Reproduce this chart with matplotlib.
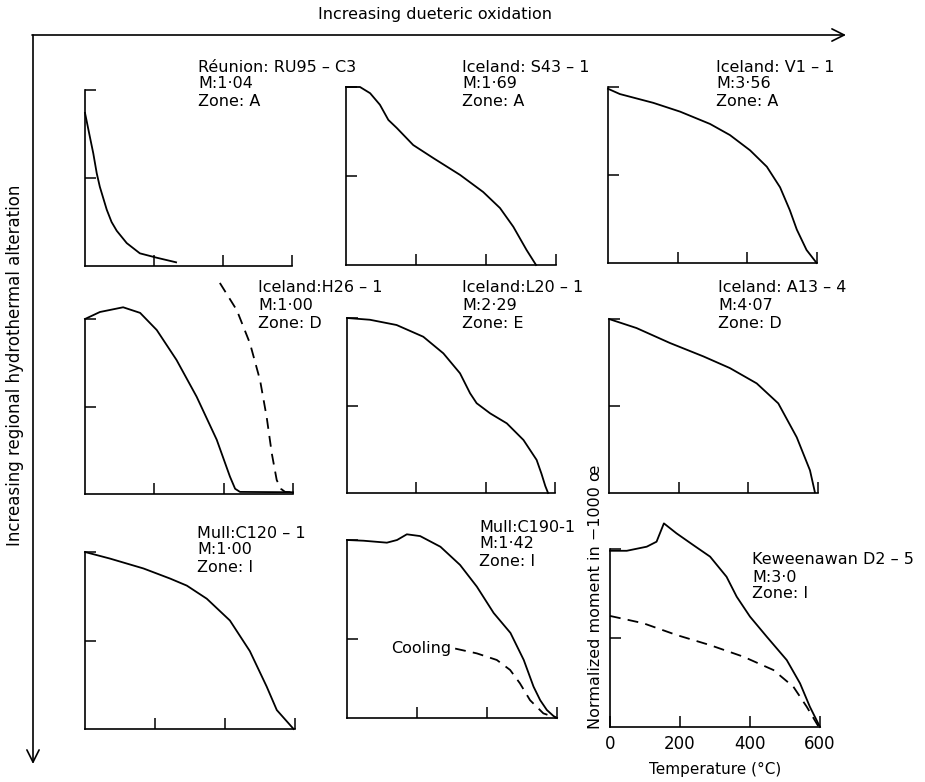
import matplotlib
matplotlib.use("Agg")
import matplotlib.pyplot as plt

W, H = 925, 782

# ---------------- data (temperature in °C, normalized moment) ----------------
t_ru95 = [0, 14, 24, 34, 43, 63, 77, 92, 121, 159, 208, 264]
m_ru95 = [.87, .735, .64, .527, .45, .32, .25, .20, .13, .072, .047, .021]

t_s43 = [0, 40, 69, 97, 121, 145, 192, 250, 326, 392, 440, 478, 516, 543]
m_s43 = [1.0, 1.0, .965, .90, .815, .77, .674, .60, .506, .41, .32, .215, .084, 0]

t_v1 = [0, 34, 130, 207, 293, 350, 408, 456, 494, 522, 542, 570, 599]
m_v1 = [.99, .96, .91, .86, .79, .727, .64, .547, .43, .30, .19, .074, 0]

t_h26 = [0, 43, 110, 159, 207, 264, 322, 380, 418, 433, 447, 600]
m_h26 = [1.0, 1.04, 1.067, 1.035, .937, .766, .556, .31, .10, .03, .012, .01]
t_h26_d = [389, 438, 476, 505, 524, 539, 553, 565, 577, 600]
m_h26_d = [1.206, 1.05, .86, .65, .44, .23, .08, .03, .012, .01]

t_l20 = [0, 66, 143, 220, 278, 326, 355, 374, 413, 461, 509, 547, 561, 572, 580]
m_l20 = [1.0, .99, .96, .893, .798, .684, .57, .513, .455, .398, .303, .189, .11, .04, 0]

t_a13 = [0, 79, 175, 271, 347, 424, 486, 539, 577, 591]
m_a13 = [1.0, .948, .862, .785, .718, .63, .515, .32, .13, .005]

t_c120 = [0, 71, 167, 243, 291, 348, 414, 471, 519, 548, 596]
m_c120 = [1.0, .963, .907, .85, .81, .736, .613, .44, .24, .107, 0]

t_c190 = [0, 47, 114, 143, 171, 209, 267, 323, 371, 419, 467, 505, 533, 552, 571, 590, 600]
m_c190 = [1.0, .996, .985, 1.0, 1.032, 1.022, .962, .86, .738, .59, .478, .326, .176, .10, .045, .011, 0]
t_c190_cool = [309, 371, 428, 466, 494, 523, 561, 599]
m_c190_cool = [.39, .363, .326, .27, .195, .10, .026, 0]

t_d25 = [0, 48, 105, 133, 154, 190, 238, 286, 333, 362, 400, 448, 505, 543, 571, 600]
m_d25 = [.99, .99, 1.013, 1.041, 1.144, 1.088, 1.022, .957, .844, .732, .62, .507, .376, .245, .114, 0]
t_d25_d = [0, 95, 190, 286, 381, 467, 524, 562, 595]
m_d25_d = [.624, .583, .517, .46, .395, .32, .226, .114, .005]

x_ticks = [0, 200, 400, 600]
x_ticklabels = ["0", "200", "400", "600"]

labels = [
    ["Réunion: RU95 – C3", "M:1·04", "Zone: A"],
    ["Iceland: S43 – 1", "M:1·69", "Zone: A"],
    ["Iceland: V1 – 1", "M:3·56", "Zone: A"],
    ["Iceland:H26 – 1", "M:1·00", "Zone: D"],
    ["Iceland:L20 – 1", "M:2·29", "Zone: E"],
    ["Iceland: A13 – 4", "M:4·07", "Zone: D"],
    ["Mull:C120 – 1", "M:1·00", "Zone: I"],
    ["Mull:C190-1", "M:1·42", "Zone: I"],
    ["Keweenawan D2 – 5", "M:3·0", "Zone: I"],
]

# ---------------- layout (pixels) ----------------
boxes = [  # left, right, y of 1.0, y of 0
    (85, 292, 90, 266), (346, 556, 87, 265), (608, 817, 87, 263),
    (85, 293, 319, 494), (347, 555, 318, 493), (609, 818, 319, 493),
    (85, 295, 552, 729), (347, 557, 540, 718), (610, 820, 549, 727),
]
text_pos = [(198, 67, 17), (462, 67, 17), (716, 67, 17),
            (258, 288, 18), (462, 288, 18), (718, 288, 18),
            (197, 533, 17), (479, 527, 17), (752, 560, 17)]
ytick_sets = [[0.5, 1.0], [0.5, 1.0], [0.5, 1.0],
              [0.5, 1.0], [0.5, 1.0], [0.5, 1.0],
              [0.5, 1.0], [0.444, 1.0], [0.5, 1.0]]

solid = [(t_ru95, m_ru95), (t_s43, m_s43), (t_v1, m_v1), (t_h26, m_h26),
         (t_l20, m_l20), (t_a13, m_a13), (t_c120, m_c120), (t_c190, m_c190),
         (t_d25, m_d25)]
dashed = {3: (t_h26_d, m_h26_d), 7: (t_c190_cool, m_c190_cool), 8: (t_d25_d, m_d25_d)}

FS = 11.5
fig = plt.figure(figsize=(W / 100, H / 100), dpi=100)
plt.rcParams['font.family'] = ['DejaVu Sans']

YMAX = 1.25
for i, (l, r, y1, y0) in enumerate(boxes):
    unit = y0 - y1
    ax = fig.add_axes([l / W, 1 - y0 / H, (r - l) / W, unit * YMAX / H])
    ax.patch.set_visible(False)
    ax.set_xlim(0, 600)
    ax.set_ylim(0, YMAX)
    for s in ("top", "right"):
        ax.spines[s].set_visible(False)
    for s in ("left", "bottom"):
        ax.spines[s].set_linewidth(1.2)
    ax.spines["left"].set_bounds(0, 1.0)
    ax.spines["bottom"].set_bounds(0, 600)
    ax.set_yticks(ytick_sets[i])
    ax.set_yticklabels([])
    ax.tick_params(direction="in", length=8, width=1.1)
    t, m = solid[i]
    ax.plot(t, m, color="black", lw=1.3, clip_on=False, solid_joinstyle="round")
    if i in dashed:
        td, md = dashed[i]
        ax.plot(td, md, color="black", lw=1.3, ls=(0, (6, 4)), clip_on=False)
    if i == 8:
        ax.set_xticks(x_ticks)
        ax.set_xticklabels(x_ticklabels, fontsize=12)
        ax.tick_params(axis="x", pad=6)
        ax.set_xlabel("Temperature (°C)", fontsize=11, labelpad=6)
        ax.set_ylabel("Normalized moment in −1000 œ", fontsize=11.5)
        ax.yaxis.set_label_coords(-0.033, 0.585)
    else:
        ax.set_xticks(x_ticks[1:])
        ax.set_xticklabels([])
    if i == 7:
        ax.text(297, 0.39, "Cooling", fontsize=FS, ha="right", va="center")

# overlay for arrows and annotation text (pixel coordinates)
ov = fig.add_axes([0, 0, 1, 1])
ov.set_xlim(0, W)
ov.set_ylim(H, 0)
ov.axis("off")
ov.patch.set_visible(False)

ov.annotate("", xy=(846, 35), xytext=(32, 35),
            arrowprops=dict(arrowstyle="->", lw=1.2, color="black",
                            mutation_scale=22, shrinkA=0, shrinkB=0))
ov.annotate("", xy=(33, 764), xytext=(33, 35),
            arrowprops=dict(arrowstyle="->", lw=1.2, color="black",
                            mutation_scale=22, shrinkA=0, shrinkB=0))
ov.text(435, 15, "Increasing dueteric oxidation", fontsize=11.5,
        ha="center", va="center")
ov.text(15, 365, "Increasing regional hydrothermal alteration", fontsize=12,
        ha="center", va="center", rotation=90)

for (x, y, dy), lines in zip(text_pos, labels):
    for k, line in enumerate(lines):
        ov.text(x, y + k * dy, line, fontsize=FS, ha="left", va="center")

fig.savefig("out.png", dpi=100)
